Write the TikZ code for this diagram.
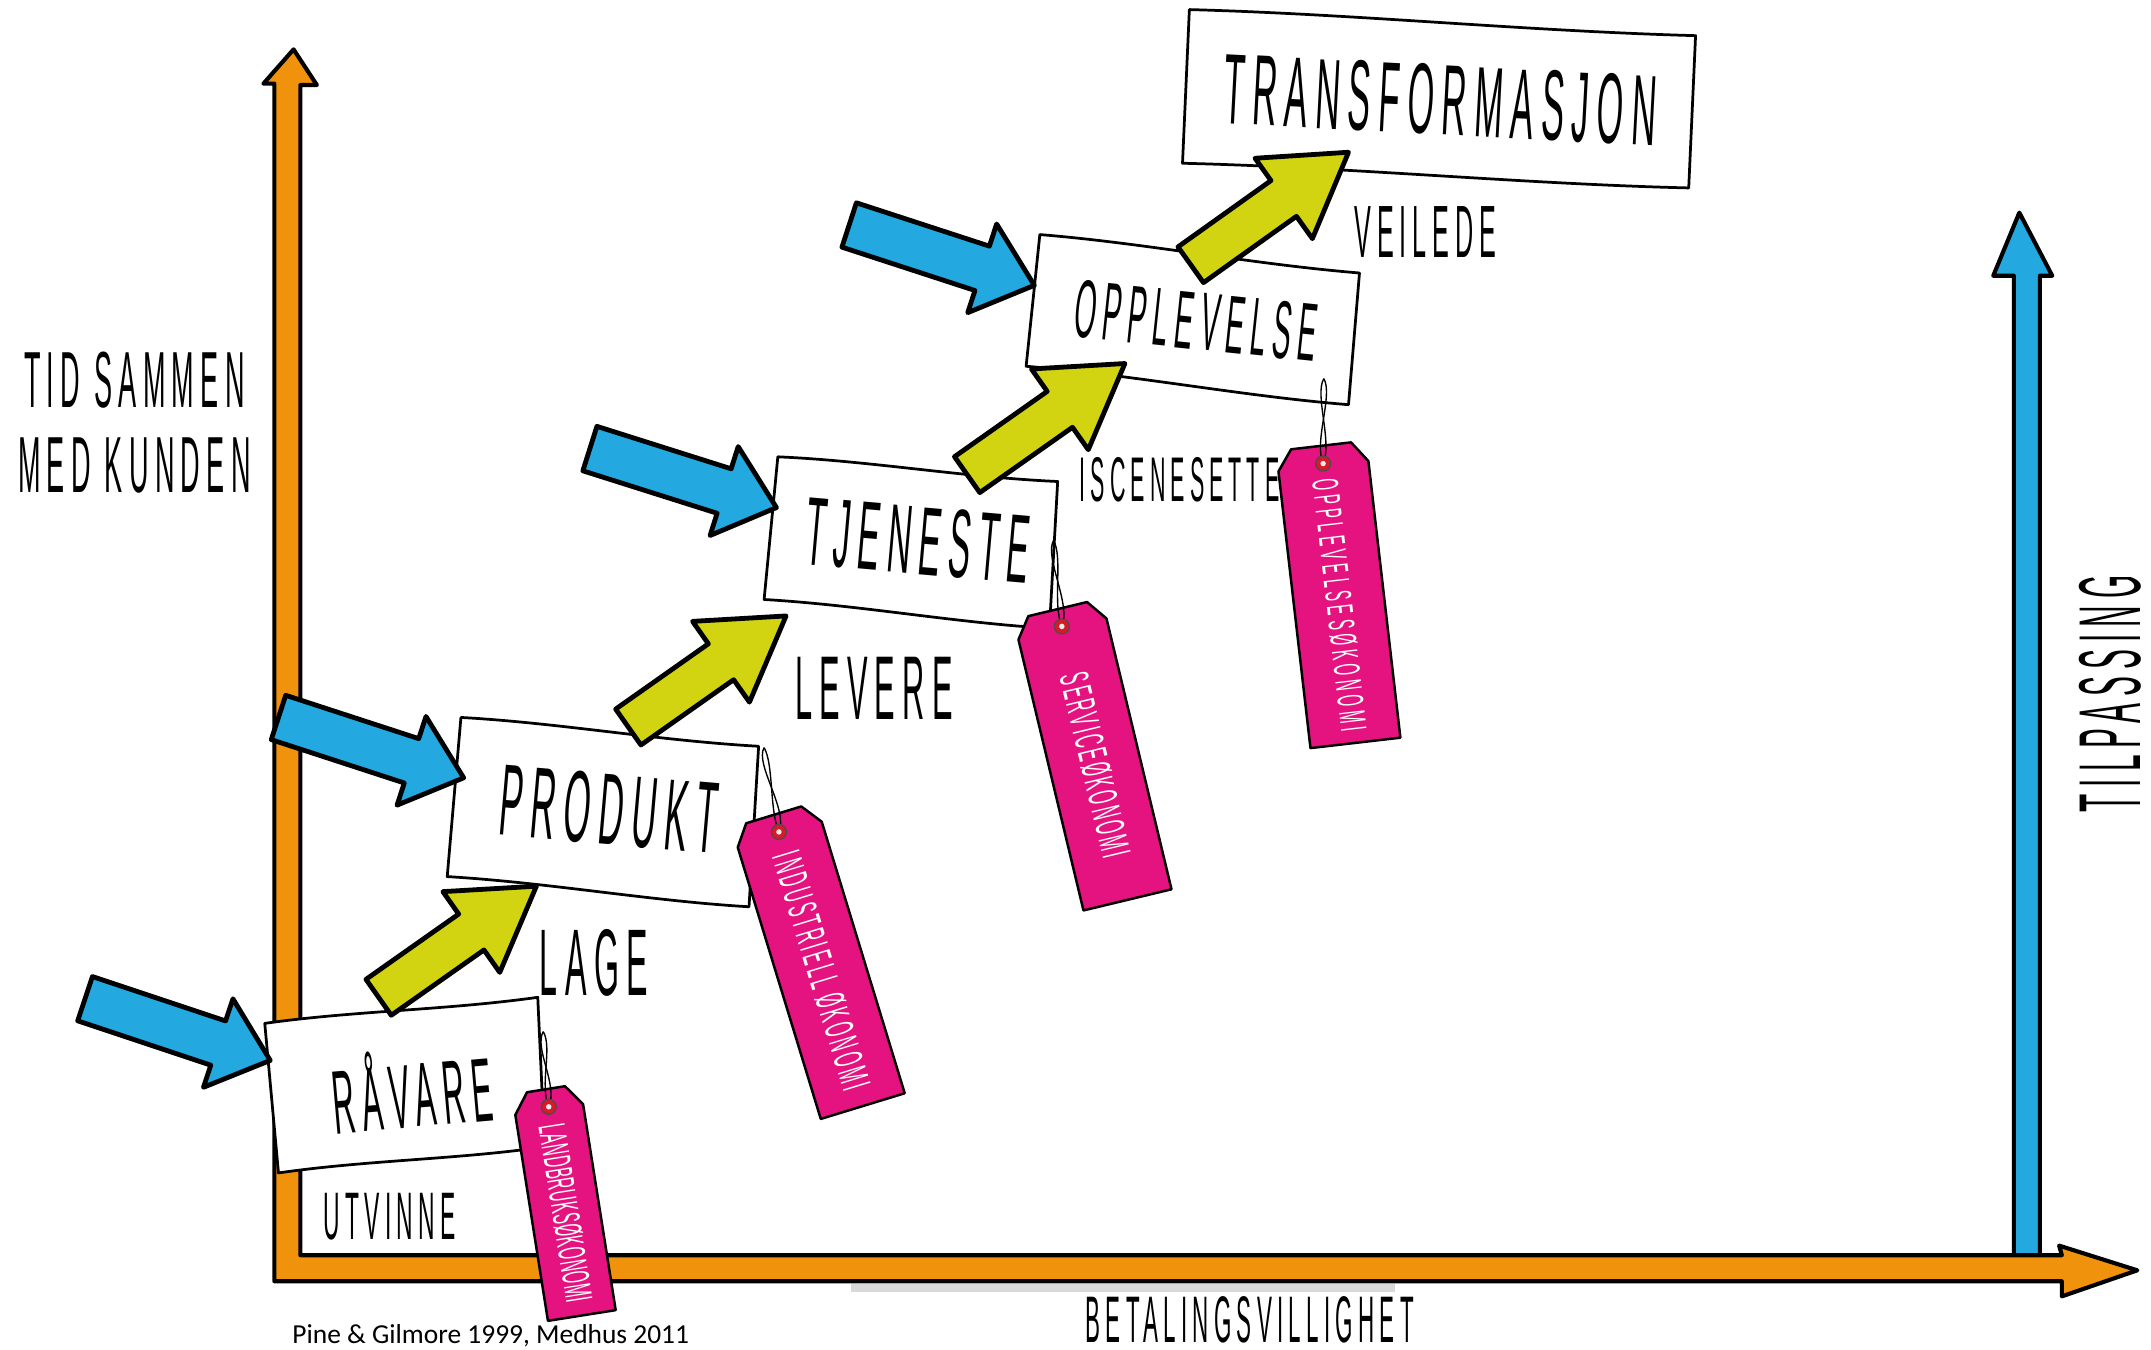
\documentclass[tikz,border=0pt]{standalone}
\usepackage{fontspec}
\usetikzlibrary{calc}
\newfontfamily\hand[FakeStretch=0.34,LetterSpace=8]{Liberation Sans}
\newfontfamily\tagfnt[FakeStretch=0.4]{Liberation Sans}
\newfontfamily\reffnt{Carlito}
\newcommand{\hsz}[1]{\fontsize{#1}{#1}\selectfont}
\definecolor{axorange}{RGB}{241,146,12}
\definecolor{skyblue}{RGB}{35,168,224}
\definecolor{limey}{RGB}{210,212,18}
\definecolor{tagpink}{RGB}{228,19,128}
\definecolor{holered}{RGB}{215,25,40}

\tikzset{
  box/.style={draw=black, fill=white, line width=2pt, line join=round},
  axis/.style={draw=black, line width=3pt, line join=round},
  blk/.style={draw=black, line width=3.5pt, line join=round},
  lbl/.style={inner sep=0pt, text=black},
  tagbody/.style={draw=black, fill=tagpink, line width=1.8pt, line join=round},
  tagtxt/.style={inner sep=0pt, text=white},
  strand/.style={draw=black, line width=1pt},
}

% block arrow: #1 colour, #2 tail, #3 tip, #4 shaft half width, #5 head half width, #6 head length
\newcommand{\blockarrow}[6]{%
  \coordinate (hb) at ($(#3)!#6!(#2)$);
  \filldraw[blk, fill=#1] ($(#2)!#4!90:(#3)$) -- ($(hb)!#4!90:(#3)$) -- ($(hb)!#5!90:(#3)$)
    -- (#3) -- ($(hb)!#5!-90:(#3)$) -- ($(hb)!#4!-90:(#3)$) -- ($(#2)!#4!-90:(#3)$) -- cycle;
}

% sketch box: #1 name, #2 TL, #3 TR, #4 BR, #5 BL
\newcommand{\sketchbox}[5]{%
  \coordinate (#1tl) at #2; \coordinate (#1tr) at #3;
  \coordinate (#1br) at #4; \coordinate (#1bl) at #5;
  \filldraw[box] (#1tl) .. controls ($(#1tl)!0.33!(#1tr)+(0,-3)$) and ($(#1tl)!0.66!(#1tr)+(0,3)$) .. (#1tr)
    -- (#1br) .. controls ($(#1br)!0.33!(#1bl)+(0,3)$) and ($(#1br)!0.66!(#1bl)+(0,-3)$) .. (#1bl) -- cycle;
}

% price tag: #1 name, #2 top centre, #3 tilt, #4 half width, #5 length, #6 text, #7 font, #8 string start
\newcommand{\pricetag}[8]{%
  \begin{scope}[shift={#2}, rotate=#3]
    \filldraw[tagbody] (-#4+11,0) -- (#4-11,0) -- (#4,15) -- (#4,#5) -- (-#4,#5) -- (-#4,15) -- cycle;
    \coordinate (#1hole) at (0,13);
    \node[tagtxt, font={#7}, rotate=-90+#3] (#1txt) at (0,{(#5+16)/2}) {#6};
  \end{scope}
  \coordinate (#1str) at #8;
  \draw[strand] (#1str) .. controls ($(#1str)+(7,12)$) and ($(#1hole)+(-7,-16)$) .. (#1hole);
  \draw[strand] (#1str) .. controls ($(#1str)+(-7,12)$) and ($(#1hole)+(7,-16)$) .. (#1hole);
  \filldraw[fill=holered, draw=black!70, line width=0.9pt] (#1hole) circle (5.5pt);
  \fill[white!85!gray] (#1hole) circle (2pt);
}

\begin{document}
\begin{tikzpicture}[x=1pt,y=-1pt]
\useasboundingbox (0,0) rectangle (1568,984);
\fill[white] (0,0) rectangle (1568,984);

% shadow under the horizontal axis
\fill[gray!30] (620,936) rectangle (1017,942);

% blue vertical arrow (TILPASSING)
\filldraw[axis, fill=skyblue] (1468,916) -- (1468,201) -- (1453,201) -- (1472,155) -- (1496,201)
  -- (1487,201) -- (1487,916) -- cycle;

% orange axes
\filldraw[axis, fill=axorange] (200,934) -- (200,61) -- (192,61) -- (214,36) -- (231,62) -- (219,62)
  -- (219,915) -- (1503,915) -- (1501,908) -- (1558,926) -- (1503,945) -- (1503,934) -- cycle;

% axis labels
\node[lbl, font={\hand\hsz{58}}] (tid1) at (98,277) {TID SAMMEN};
\node[lbl, font={\hand\hsz{58}}] (tid2) at (98,339) {MED KUNDEN};
\node[lbl, font={\hand\hsz{48}}] (bet) at (911,962) {BETALINGSVILLIGHET};
\node[lbl, font={\hand\hsz{64}}, rotate=90] (tilp) at (1538,506) {TILPASSING};
\node[lbl, font={\reffnt\hsz{20}}, anchor=west] (ref) at (213,974) {Pine \& Gilmore 1999, Medhus 2011};

% verb labels
\node[lbl, font={\hand\hsz{49}}] (utv) at (284,887) {UTVINNE};
\node[lbl, font={\hand\hsz{69}}] (lage) at (433,702) {LAGE};
\node[lbl, font={\hand\hsz{66}}] (lev) at (637,502) {LEVERE};
\node[lbl, font={\hand\hsz{46}}, anchor=west] (isc) at (787,350) {ISCENESETTE};
\node[lbl, font={\hand\hsz{54}}] (veil) at (1039,169) {VEILEDE};

% boxes
\sketchbox{b1}{(193,746)}{(392,727)}{(397,836)}{(203,855)}
\sketchbox{b2}{(336,523)}{(553,544)}{(546,661)}{(326,639)}
\sketchbox{b3}{(567,333)}{(771,351)}{(765,458)}{(557,437)}
\sketchbox{b4}{(758,171)}{(991,199)}{(983,295)}{(748,267)}
\sketchbox{b5}{(867,7)}{(1236,26)}{(1231,137)}{(862,119)}

\node[lbl, font={\hand\hsz{66}}, rotate=5] (ravare) at (300,793) {RÅVARE};
\node[lbl, font={\hand\hsz{74}}, rotate=-5] (produkt) at (444,590) {PRODUKT};
\node[lbl, font={\hand\hsz{71}}, rotate=-5] (tjeneste) at (669,394) {TJENESTE};
\node[lbl, font={\hand\hsz{60}}, rotate=-6] (opplevelse) at (872,234) {OPPLEVELSE};
\node[lbl, font={\hand\hsz{73}}, rotate=-3] (transf) at (1050,73) {TRANSFORMASJON};

% blue input arrows
\coordinate (ba1) at (62,728);  \coordinate (ba1t) at (197,773);
\coordinate (ba2) at (203,523); \coordinate (ba2t) at (338,567);
\coordinate (ba3) at (430,327); \coordinate (ba3t) at (566,370);
\coordinate (ba4) at (619,164); \coordinate (ba4t) at (754,208);
\blockarrow{skyblue}{ba1}{ba1t}{17pt}{34pt}{40pt}
\blockarrow{skyblue}{ba2}{ba2t}{17pt}{34pt}{40pt}
\blockarrow{skyblue}{ba3}{ba3t}{17pt}{34pt}{40pt}
\blockarrow{skyblue}{ba4}{ba4t}{17pt}{34pt}{40pt}

% yellow step arrows
\coordinate (ya1) at (276,727); \coordinate (ya1t) at (391,646);
\coordinate (ya2) at (458,530); \coordinate (ya2t) at (573,449);
\coordinate (ya3) at (705,346); \coordinate (ya3t) at (820,265);
\coordinate (ya4) at (868,193); \coordinate (ya4t) at (983,111);
\blockarrow{limey}{ya1}{ya1t}{16pt}{36pt}{58pt}
\blockarrow{limey}{ya2}{ya2t}{16pt}{36pt}{58pt}
\blockarrow{limey}{ya3}{ya3t}{16pt}{36pt}{58pt}
\blockarrow{limey}{ya4}{ya4t}{16pt}{36pt}{58pt}

% price tags
\pricetag{t1}{(398,794)}{9}{25}{167}{LANDBRUKSØKONOMI}{\tagfnt\addfontfeature{LetterSpace=2}\hsz{28}}{(396,752)}
\pricetag{t2}{(564,594)}{17}{32}{222}{INDUSTRIELL ØKONOMI}{\tagfnt\addfontfeature{LetterSpace=8}\hsz{30}}{(557,545)}
\pricetag{t3}{(771,444)}{13.5}{33}{218}{SERVICEØKONOMI}{\tagfnt\addfontfeature{LetterSpace=7}\hsz{30}}{(768,394)}
\pricetag{t4}{(963,325)}{6.6}{33}{218}{OPPLEVELSESØKONOMI}{\tagfnt\addfontfeature{LetterSpace=12}\hsz{27}}{(965,276)}
\end{tikzpicture}
\end{document}
